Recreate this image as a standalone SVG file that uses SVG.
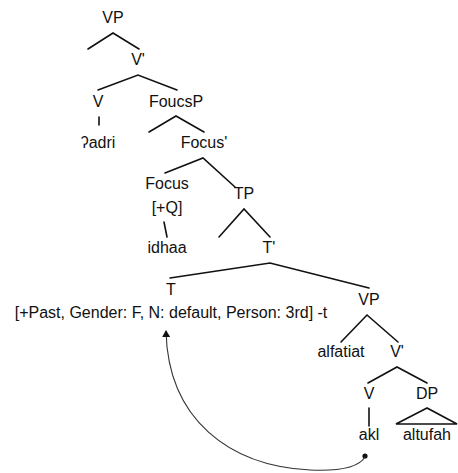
<svg xmlns="http://www.w3.org/2000/svg" width="458" height="473" viewBox="0 0 458 473">
  <style>
    text { font-family: "Liberation Sans", Arial, sans-serif; font-size: 16px; fill: #111; text-anchor: middle; }
    .br { stroke: #111; stroke-width: 1.6; fill: none; stroke-linecap: round; }
    .mv { stroke: #333; stroke-width: 1.1; fill: none; }
  </style>
  <defs>
    <marker id="head" markerWidth="8" markerHeight="8" refX="6" refY="4" orient="auto" markerUnits="userSpaceOnUse">
      <path d="M0,0 L7,4 L0,8 Z" fill="#111"/>
    </marker>
  </defs>

  <g id="n-vp"><text x="113" y="23">VP</text></g>
  <g id="n-vbar"><text x="138" y="65">V'</text></g>
  <g id="n-v1"><text x="98" y="107">V</text></g>
  <g id="n-adri"><text x="98" y="148">ʔadri</text></g>
  <g id="n-focusp"><text x="176" y="107">FoucsP</text></g>
  <g id="n-focusbar"><text x="204" y="148">Focus'</text></g>
  <g id="n-focus"><text x="167" y="189">Focus</text><text x="167" y="213">[+Q]</text></g>
  <g id="n-idhaa"><text x="167" y="253">idhaa</text></g>
  <g id="n-tp"><text x="244" y="199">TP</text></g>
  <g id="n-tbar"><text x="269" y="253">T'</text></g>
  <g id="n-t"><text x="171" y="295">T</text></g>
  <g id="n-tfeat"><text x="171" y="318">[+Past, Gender: F, N: default, Person: 3rd] -t</text></g>
  <g id="n-vp2"><text x="369" y="305">VP</text></g>
  <g id="n-alfatiat"><text x="341" y="357">alfatiat</text></g>
  <g id="n-vbar2"><text x="397" y="357">V'</text></g>
  <g id="n-v2"><text x="369" y="399">V</text></g>
  <g id="n-dp"><text x="427" y="399">DP</text></g>
  <g id="n-akl"><text x="369" y="440">akl</text></g>
  <g id="n-altufah"><text x="427" y="440">altufah</text></g>

  <g id="connectors">
    <polyline class="br" points="88,49 113,33 139,49"/>
    <polyline class="br" points="98,90 138,75 177,90"/>
    <line class="br" x1="99" y1="117" x2="99" y2="125"/>
    <polyline class="br" points="149,132 176,116 204,132"/>
    <polyline class="br" points="165,173 203,158 235,187"/>
    <line class="br" x1="164" y1="222" x2="167" y2="237"/>
    <polyline class="br" points="219,237 244,209 270,237"/>
    <polyline class="br" points="170,278 270,263 369,288"/>
    <polyline class="br" points="341,342 367,315 398,342"/>
    <polyline class="br" points="368,383 397,367 427,383"/>
    <line class="br" x1="369" y1="408" x2="369" y2="426"/>
    <polygon class="br" points="427,408 396,424 457,424"/>
    <circle cx="365" cy="456" r="2.6" fill="#111"/>
    <path class="mv" d="M365,457 Q356,472 310,470 C230,466 168,420 166,331" marker-end="url(#head)"/>
  </g>
</svg>
